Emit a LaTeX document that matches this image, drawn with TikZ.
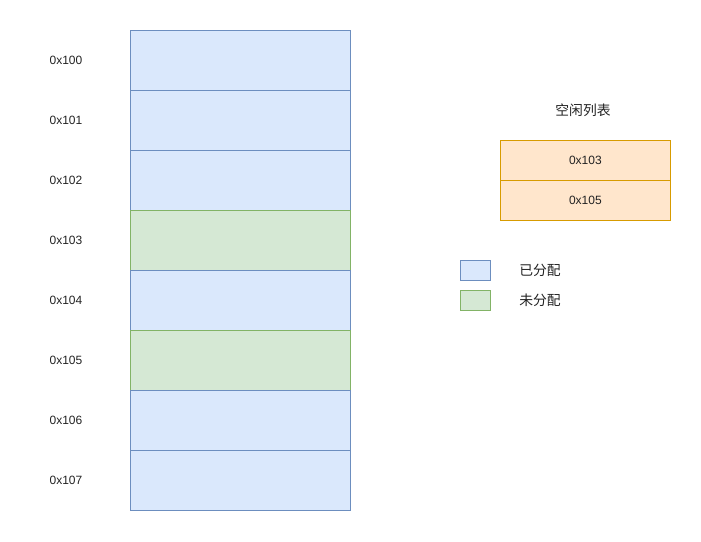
\documentclass[tikz,border=0pt]{standalone}
\usepackage{fontspec}
\setmainfont{Liberation Sans}
\newfontfamily\cjk{Noto Sans CJK SC}
\definecolor{bfill}{HTML}{DAE8FC}
\definecolor{bline}{HTML}{6C8EBF}
\definecolor{gfill}{HTML}{D5E8D4}
\definecolor{gline}{HTML}{82B366}
\definecolor{ofill}{HTML}{FFE6CC}
\definecolor{oline}{HTML}{D79B00}
\definecolor{txt}{HTML}{222222}
\begin{document}
\begin{tikzpicture}[x=1pt,y=-1pt,
  every node/.style={font=\fontsize{12}{14}\selectfont, text=txt, inner sep=0pt},
  cell/.style={draw, line width=0.8pt, minimum width=220pt, minimum height=60pt, anchor=north west},
  used/.style={cell, fill=bfill, draw=bline},
  free/.style={cell, fill=gfill, draw=gline},
  fl/.style={draw=oline, fill=ofill, line width=0.8pt, minimum width=170pt, minimum height=40pt, anchor=north west},
  lg/.style={line width=0.8pt, minimum width=30pt, minimum height=20pt, anchor=north west},
  addr/.style={font=\fontsize{12}{14}\selectfont},
  cjkt/.style={font=\cjk\fontsize{13.8}{16}\selectfont}
]
\useasboundingbox (0,0) rectangle (701,541);
\node[used] (m0) at (130,30) {};
\node[used] (m1) at (130,90) {};
\node[used] (m2) at (130,150) {};
\node[free] (m3) at (130,210) {};
\node[used] (m4) at (130,270) {};
\node[free] (m5) at (130,330) {};
\node[used] (m6) at (130,390) {};
\node[used] (m7) at (130,450) {};
\node[addr] (a0) at (66,60) {0x100};
\node[addr] (a1) at (66,120) {0x101};
\node[addr] (a2) at (66,180) {0x102};
\node[addr] (a3) at (66,240) {0x103};
\node[addr] (a4) at (66,300) {0x104};
\node[addr] (a5) at (66,360) {0x105};
\node[addr] (a6) at (66,420) {0x106};
\node[addr] (a7) at (66,480) {0x107};
\node[cjkt] (title) at (583,110) {空闲列表};
\node[fl] (f0) at (500,140) {};
\node[fl] (f1) at (500,180) {};
\node (f0t) at (f0.center) {0x103};
\node (f1t) at (f1.center) {0x105};
\node[lg, fill=bfill, draw=bline] (l0) at (460,260) {};
\node[lg, fill=gfill, draw=gline] (l1) at (460,290) {};
\node[cjkt] (l0t) at (540,270) {已分配};
\node[cjkt] (l1t) at (540,300) {未分配};
\end{tikzpicture}
\end{document}
